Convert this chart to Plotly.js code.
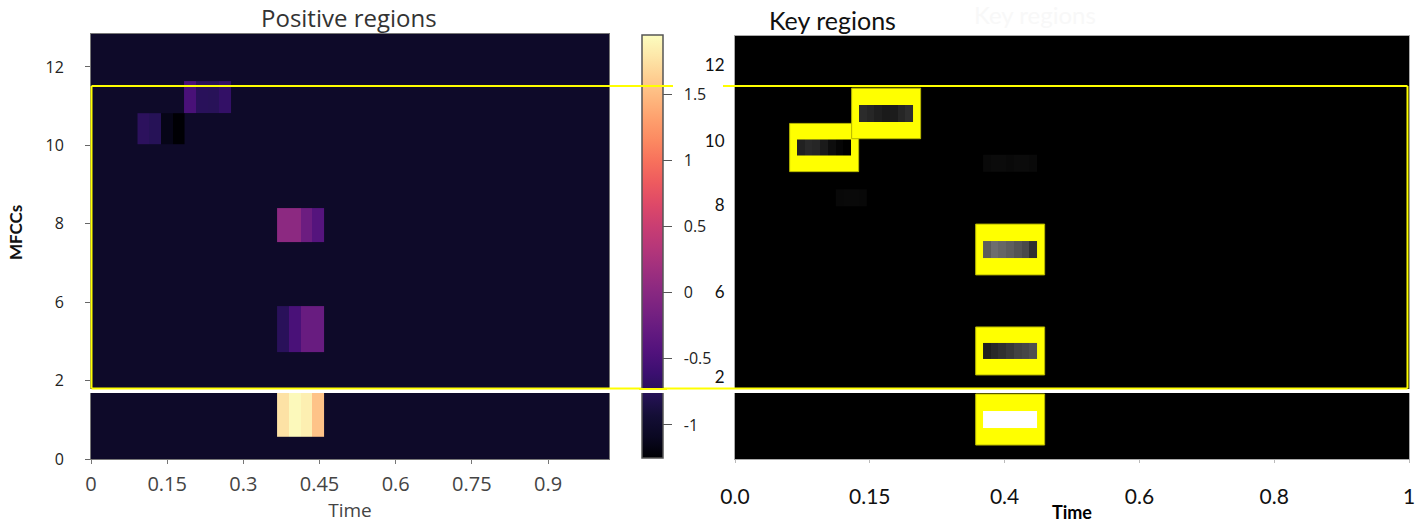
<!DOCTYPE html>
<html><head><meta charset="utf-8">
<script src="https://cdn.plot.ly/plotly-3.0.1.min.js"></script>
<style>html,body{margin:0;padding:0;background:#fff;} #chart{width:1423px;height:523px;}</style>
</head><body><div id="chart"></div>
<script>
// ---------------- data ----------------
// shared MFCC axis labels (left panel, equally spaced)
const mfccTickLabels = ['0', '2', '6', '8', '10', '12'];
// left panel time ticks
const posTimeTicks = [0, 0.15, 0.3, 0.45, 0.6, 0.75, 0.9];
const posTimeTickLabels = ['0', '0.15', '0.3', '0.45', '0.6', '0.75', '0.9'];
// right panel tick labels
const keyTimeTickLabels = ['0.0', '0.15', '0.4', '0.6', '0.8', '1'];
const keyMfccTickLabels = ['12', '10', '8', '6', '2'];
const keyMfccTickPos = [5.03, 4.06, 3.24, 2.13, 1.04];
// colour bar ticks
const cbTickVals = [-1, -0.5, 0, 0.5, 1, 1.5];
const cbTickLabels = ['-1', '-0.5', '0', '0.5', '1', '1.5'];

// Left panel "Positive regions": attribution values (magma scale)
const posFrame = 0.0229;            // duration of one frame
const posFrameCount = 45;
const posBackground = -1.03;        // value of all non-highlighted cells
const posBlockName = ['MFCC 1', 'MFCC 5', 'MFCC 8', 'MFCC 10', 'MFCC 11'];
const posBlockFirstFrame = [16, 16, 16, 4, 8];
const posBlockLow  = [0.28, 1.365, 2.77, 4.02, 4.41];
const posBlockHigh = [0.87, 1.95, 3.20, 4.41, 4.82];
const posBlockValues = [
  [1.76, 1.92, 1.85, 1.55],
  [-0.74, -0.51, -0.26, -0.26],
  [0.03, 0.03, -0.23, -0.42],
  [-0.72, -0.76, -1.15, -1.25],
  [-0.51, -0.74, -0.75, -0.67]
];

// Right panel "Key regions": normalised relevance (grey scale)
const keyFrame = 0.0575;
const keyBlockName = ['MFCC 1', 'MFCC 5', 'MFCC 8', 'MFCC 10', 'MFCC 11', 'faint a', 'faint b'];
const keyBlockFirstFrame = [32, 32, 32, 8, 16, 32, 13];
const keyBlockLow  = [0.395, 1.276, 2.564, 3.87, 4.30, 3.66, 3.22];
const keyBlockHigh = [0.612, 1.48, 2.78, 4.075, 4.515, 3.88, 3.44];
const keyBlockValues = [
  [1, 1, 1, 1, 1, 1, 1],
  [0.12, 0.16, 0.19, 0.22, 0.26, 0.28, 0.31],
  [0.36, 0.43, 0.40, 0.37, 0.33, 0.29, 0.19],
  [0.13, 0.16, 0.15, 0.10, 0.05, 0.02, 0.0],
  [0.17, 0.15, 0.12, 0.10, 0.11, 0.15, 0.18],
  [0.035, 0.045, 0.045, 0.035, 0.045, 0.045, 0.035],
  [0.03, 0.035, 0.035, 0.03]
];
const keyBlockHighlighted = [true, true, true, true, true, false, false];

// ---------------- styling ----------------
const magma = [[0,'#000004'],[0.05,'#0a0822'],[0.1,'#140e36'],[0.15,'#251255'],[0.2,'#3b0f70'],
  [0.25,'#51127c'],[0.3,'#641a80'],[0.35,'#782281'],[0.4,'#8c2981'],[0.45,'#a1307e'],[0.5,'#b73779'],
  [0.55,'#ca3e72'],[0.6,'#de4968'],[0.65,'#ed5a5f'],[0.7,'#f7705c'],[0.75,'#fc8961'],[0.8,'#fe9f6d'],
  [0.85,'#feb77e'],[0.9,'#fecf92'],[0.95,'#fde7a9'],[1,'#fcfdbf']];
const W = 1423, H = 523;
const px = v => v / W, py = v => 1 - v / H;
const posYMax = 5.42, keyYMax = 5.395;

const traces = [];
// left background
traces.push({type:'heatmap', xaxis:'x', yaxis:'y', coloraxis:'coloraxis', hoverinfo:'skip',
  x:[0, posFrame * posFrameCount], y:[0, posYMax], z:[[posBackground]]});
posBlockValues.forEach((vals, i) => {
  const x = [];
  for (let k = 0; k <= vals.length; k++) x.push((posBlockFirstFrame[i] + k) * posFrame);
  traces.push({type:'heatmap', name:posBlockName[i], xaxis:'x', yaxis:'y', coloraxis:'coloraxis',
    x:x, y:[posBlockLow[i], posBlockHigh[i]], z:[vals]});
});
const shapes = [];
keyBlockValues.forEach((vals, i) => {
  const x = [];
  for (let k = 0; k <= vals.length; k++) x.push((keyBlockFirstFrame[i] + k) * keyFrame);
  traces.push({type:'heatmap', name:keyBlockName[i], xaxis:'x2', yaxis:'y2', coloraxis:'coloraxis2',
    x:x, y:[keyBlockLow[i], keyBlockHigh[i]], z:[vals]});
  if (keyBlockHighlighted[i]) {
    const h = keyBlockHigh[i] - keyBlockLow[i];
    shapes.push({type:'rect', xref:'x2', yref:'y2', layer:'below',
      x0:x[0] - keyFrame * 0.95, x1:x[x.length - 1] + keyFrame * 0.95,
      y0:keyBlockLow[i] - h, y1:keyBlockHigh[i] + h,
      fillcolor:'#ffff00', line:{color:'#b5b500', width:1}});
  }
});
// white cut band and yellow outline
shapes.push({type:'rect', xref:'paper', yref:'paper', layer:'above',
  x0:px(88), x1:px(1413), y0:py(393), y1:py(389), fillcolor:'#ffffff', line:{width:0}});
const yl = {color:'#ffff00', width:2};
[[91.5,86,673,86],[723,86,1407.5,86],[91.5,86,91.5,388.5],[1407.5,86,1407.5,388.5],[91.5,388.5,1407.5,388.5]]
  .forEach(s => shapes.push({type:'line', xref:'paper', yref:'paper', layer:'above',
    x0:px(s[0]), y0:py(s[1]), x1:px(s[2]), y1:py(s[3]), line:yl}));

const leftFont = 'Open Sans, DejaVu Sans, sans-serif';
const rightFont = 'Lato, Open Sans, sans-serif';

// strips drawn over the colour bar (continuation of the outline and the cut)
const barStrip = (y, h, color) => ({text:' ', xref:'paper', yref:'paper', x:px(653), y:py(y),
  xanchor:'center', yanchor:'middle', width:28, height:h, bgcolor:color, borderpad:0, borderwidth:0,
  showarrow:false, font:{size:1, color:color}});

const layout = {
  width:W, height:H, margin:{l:0, r:0, t:0, b:0},
  paper_bgcolor:'#ffffff', plot_bgcolor:'#000000', showlegend:false,
  xaxis:{domain:[px(91), px(609)], range:[0, 1.02], anchor:'y',
    tickvals:posTimeTicks, ticktext:posTimeTickLabels, ticks:'outside', ticklen:4, tickcolor:'#777',
    ticklabelstandoff:3, tickfont:{family:leftFont, size:20, color:'#444'},
    showgrid:false, zeroline:false, showline:true, mirror:true, linecolor:'#777', linewidth:1,
    title:{text:'Time', font:{family:leftFont, size:19, color:'#444'}, standoff:1}},
  yaxis:{domain:[py(459), py(34)], range:[0, posYMax], anchor:'x',
    tickvals:[0,1,2,3,4,5], ticktext:mfccTickLabels, ticks:'outside', ticklen:5, tickcolor:'#666',
    ticklabelstandoff:18, tickfont:{family:leftFont, size:16, color:'#222'},
    showgrid:false, zeroline:false, showline:true, mirror:true, linecolor:'#777', linewidth:1},
  xaxis2:{domain:[px(735), px(1409)], range:[0, 5], anchor:'y2',
    tickvals:[0,1,2,3,4,5], ticktext:keyTimeTickLabels, ticks:'outside', ticklen:3, tickcolor:'#bbb',
    ticklabelstandoff:16, tickfont:{family:rightFont, size:21, color:'#111'},
    showgrid:false, zeroline:false, showline:true, mirror:true, linecolor:'#aaa', linewidth:1,
    title:{text:'<b>Time</b>', font:{family:rightFont, size:18, color:'#000'}, standoff:0}},
  yaxis2:{domain:[py(459), py(36)], range:[0, keyYMax], anchor:'x2',
    tickvals:keyMfccTickPos, ticktext:keyMfccTickLabels, ticks:'',
    ticklabelstandoff:6, tickfont:{family:rightFont, size:17, color:'#111'},
    showgrid:false, zeroline:false, showline:true, mirror:true, linecolor:'#aaa', linewidth:1},
  coloraxis:{cmin:-1.25, cmax:1.95, colorscale:magma,
    colorbar:{x:px(642), xanchor:'left', xpad:0, y:py(246.5), yanchor:'middle', ypad:0,
      len:423 / H, lenmode:'fraction', thickness:21, thicknessmode:'pixels',
      outlinewidth:1.5, outlinecolor:'#555', ticks:'outside', ticklen:9, tickcolor:'#555',
      tickvals:cbTickVals, ticktext:cbTickLabels.map(s => '\u00a0\u00a0' + s),
      tickfont:{family:leftFont, size:16, color:'#222'}}},
  coloraxis2:{cmin:0, cmax:1, colorscale:[[0,'#000000'],[1,'#ffffff']], showscale:false},
  shapes:shapes,
  annotations:[
    {text:'Positive regions', xref:'paper', yref:'paper', x:px(349), y:py(17), xanchor:'center', yanchor:'middle',
      showarrow:false, font:{family:leftFont, size:24, color:'#333'}},
    {text:'Key regions', xref:'paper', yref:'paper', x:px(832), y:py(20), xanchor:'center', yanchor:'middle',
      showarrow:false, font:{family:rightFont, size:25, color:'#111'}},
    {text:'Key regions', xref:'paper', yref:'paper', x:px(1035), y:py(15), xanchor:'center', yanchor:'middle',
      showarrow:false, font:{family:rightFont, size:24, color:'#f8f8f8'}},
    {text:'<b>MFCCs</b>', xref:'paper', yref:'paper', x:px(15), y:py(233), xanchor:'center', yanchor:'middle',
      textangle:-90, showarrow:false, font:{family:rightFont, size:17, color:'#111'}},
    barStrip(391, 4, '#ffffff'),
    barStrip(86, 2, '#ffff00'),
    barStrip(388.5, 2, '#ffff00')
  ]
};

Plotly.newPlot('chart', traces, layout, {displayModeBar:false, staticPlot:true});
</script>
</body></html>
